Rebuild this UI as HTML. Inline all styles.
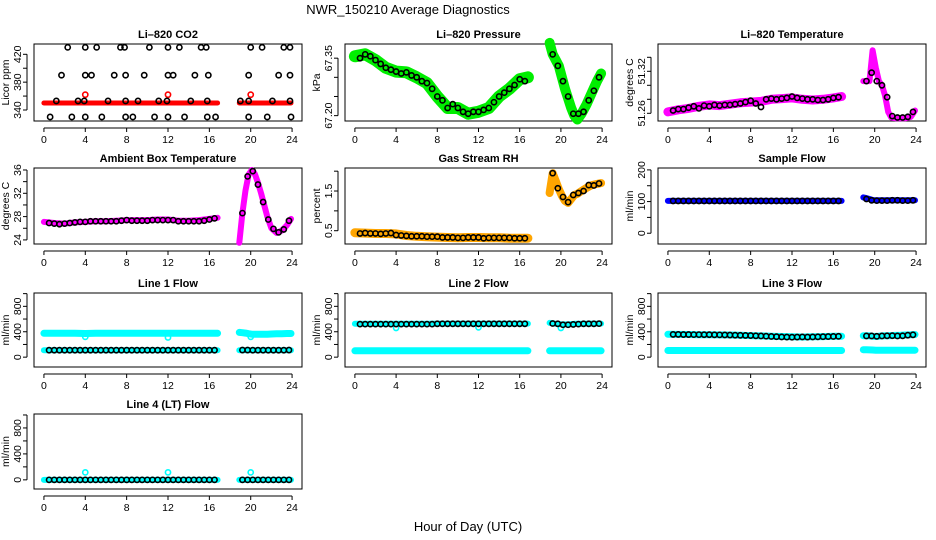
<!DOCTYPE html>
<html><head><meta charset="utf-8"><style>
html,body{margin:0;padding:0;background:#fff;}
svg{display:block;font-family:"Liberation Sans",Arial,sans-serif;}
</style></head><body>
<svg id="chart" width="936" height="540" viewBox="0 0 936 540">
<text x="408" y="14" font-size="13" text-anchor="middle">NWR_150210  Average Diagnostics</text>
<text x="468" y="531" font-size="13" text-anchor="middle">Hour of Day (UTC)</text>
</svg>
<script>
// ---- shared hours ----
const hrsA = [0.5,1,1.5,2,2.5,3,3.5,4,4.5,5,5.5,6,6.5,7,7.5,8,8.5,9,9.5,10,10.5,11,11.5,12,12.5,13,13.5,14,14.5,15,15.5,16,16.5];
const hrsB = [19.2,19.7,20.2,20.7,21.2,21.7,22.2,22.7,23.2,23.7];
const cA = [0,1,2,3,4,5,6,7,8,9,10,11,12,13,14,15,16,16.8];
const cB = [18.9,19.2,19.5,19.8,20.1,20.4,20.7,21,21.3,21.6,22,22.5,23,23.5,23.9];
const xTicks = [0,4,8,12,16,20,24];

// ---- CO2 ----
const co2BandA = [350,350,350,350,350,350,350,350,350,350,350,350,350,350,350,350,350,350];
const co2BandB = [350,350,350,350,350,350,350,350,350,350,350,350,350,350,350];
const co2RedHours = [4,12,20];
const co2RedVals = [362,362,362];
const co2BlkHours = [2.3,4,5.1,7.4,7.8,10.2,12,13.1,15.2,15.7,20,21.1,23.2,23.8, 1.7,4,4.6,6.8,7.9,9.7,12,12.5,14.6,15.9,19.8,22.7,23.8, 1.2,3.3,3.9,6.2,7.9,9.1,11.1,11.9,14.2,15.8,19,19.8,22.1,23.8, 0.6,2.7,4,5.6,7.9,8.6,10.7,12,13.6,15.8,16.6,19.8,21.6,23.9];
const co2BlkVals = [430,430,430,430,430,430,430,430,430,430,430,430,430,430, 390,390,390,390,390,390,390,390,390,390,390,390,390, 353,353,353,353,353,353,353,353,353,353,353,353,353,353, 330,330,330,330,330,330,330,330,330,330,330,330,330,330];

// ---- Pressure ----
const presBandA = [67.355,67.36,67.345,67.325,67.315,67.313,67.30,67.285,67.25,67.22,67.22,67.205,67.21,67.22,67.25,67.27,67.295,67.30];
const presBandB = [67.39,67.36,67.345,67.33,67.30,67.27,67.245,67.22,67.20,67.19,67.205,67.23,67.26,67.29,67.31];
const presBlkA = [67.35,67.36,67.355,67.345,67.335,67.325,67.32,67.315,67.31,67.313,67.305,67.30,67.29,67.285,67.27,67.25,67.24,67.22,67.23,67.22,67.21,67.205,67.21,67.21,67.215,67.22,67.235,67.25,67.26,67.27,67.28,67.295,67.29];
const presBlkB = [67.36,67.33,67.29,67.25,67.205,67.205,67.21,67.24,67.265,67.30];

// ---- Li-820 Temperature ----
const tempBandA = [51.262,51.265,51.267,51.270,51.272,51.271,51.273,51.275,51.276,51.277,51.280,51.281,51.282,51.280,51.279,51.280,51.282,51.284];
const tempBandB = [51.306,51.306,51.306,51.350,51.325,51.306,51.300,51.285,51.262,51.254,51.253,51.253,51.253,51.255,51.264];
const tempBlkA = [51.264,51.266,51.266,51.268,51.270,51.267,51.271,51.270,51.272,51.271,51.272,51.272,51.273,51.274,51.276,51.278,51.274,51.269,51.280,51.281,51.280,51.281,51.282,51.284,51.282,51.281,51.280,51.280,51.279,51.279,51.280,51.282,51.283];
const tempBlkB = [51.306,51.318,51.306,51.300,51.283,51.256,51.254,51.254,51.255,51.262];

// ---- Ambient Box Temperature ----
const ambBandA = [27.1,26.9,26.8,27.0,27.1,27.2,27.2,27.3,27.4,27.4,27.4,27.5,27.5,27.3,27.3,27.4,27.6,27.8];
const ambBandB = [23.5,28.6,32.5,35.2,36.0,35.3,33.8,32.0,30.0,28.0,26.0,25.2,25.6,26.5,27.6];
const ambBlkA = [26.9,26.8,26.7,26.8,26.9,27.0,27.1,27.1,27.2,27.2,27.2,27.2,27.2,27.2,27.3,27.4,27.3,27.3,27.3,27.3,27.4,27.4,27.4,27.4,27.4,27.2,27.2,27.2,27.2,27.2,27.3,27.5,27.7];
const ambBlkB = [28.6,34.9,35.8,33.5,30.5,27.5,25.9,25.3,25.8,27.3];

// ---- Gas Stream RH ----
const rhBandA = [0.45,0.44,0.43,0.43,0.42,0.38,0.36,0.35,0.34,0.33,0.32,0.33,0.33,0.32,0.32,0.31,0.31,0.31];
const rhBandB = [1.45,1.95,1.75,1.55,1.38,1.25,1.20,1.30,1.40,1.43,1.50,1.58,1.65,1.68,1.70];
const rhBlkA = [0.43,0.44,0.43,0.43,0.42,0.43,0.44,0.39,0.38,0.37,0.36,0.36,0.36,0.35,0.35,0.35,0.33,0.33,0.33,0.32,0.32,0.33,0.33,0.33,0.31,0.32,0.32,0.32,0.32,0.32,0.31,0.31,0.31];
const rhBlkB = [1.95,1.57,1.35,1.22,1.40,1.45,1.50,1.65,1.64,1.69];

// ---- Sample Flow ----
const sfBandA = [102,102,102,102,102,102,102,102,102,102,102,102,102,102,102,102,102,102];
const sfBandB = [113,111,108,105,104,104,104,104,104,104,104,104,104,104,104];
const sfBlkA = [102,102,102,102,102,102,102,102,102,102,102,102,102,102,102,102,102,102,102,102,102,102,102,102,102,102,102,102,102,102,102,102,102];
const sfBlkB = [108,104,103,103,103,104,104,103,103,104];

// ---- Line 1 Flow ----
const l1UpA = [375,375,375,375,372,375,375,375,375,375,375,375,375,375,375,375,375,375];
const l1UpB = [390,385,378,370,362,360,360,360,360,362,365,368,370,372,372];
const l1LoA = [110,110,110,110,110,110,110,110,110,110,110,110,110,110,110,110,110,110];
const l1LoB = [110,110,110,110,110,110,110,110,110,110,110,110,110,110,110];
const l1BlkA = [110,110,110,110,110,110,110,110,110,110,110,110,110,110,110,110,110,110,110,110,110,110,110,110,110,110,110,110,110,110,110,110,110];
const l1BlkB = [112,112,110,110,110,110,110,110,110,112];
const l1DipHours = [4,12,20];
const l1DipVals = [320,310,320];

// ---- Line 2 Flow ----
const l2UpA = [525,525,525,525,525,525,525,525,528,528,528,528,528,528,528,528,528,528];
const l2UpB = [540,535,525,520,515,515,515,520,525,525,525,528,528,528,528];
const l2LoA = [100,100,100,100,100,100,100,100,100,100,100,100,100,100,100,100,100,100];
const l2LoB = [100,100,100,100,100,100,100,100,100,100,100,100,100,100,100];
const l2BlkA = [520,520,520,520,520,520,520,520,520,520,520,520,520,520,520,525,525,525,525,525,525,525,525,525,525,525,525,525,525,525,525,525,525];
const l2BlkB = [530,525,510,510,515,520,525,525,525,528];
const l2DipHours = [4,12,20];
const l2DipVals = [460,470,460];

// ---- Line 3 Flow ----
const l3UpA = [360,358,356,354,352,350,348,345,340,335,330,325,320,318,320,324,328,330];
const l3UpB = [338,336,334,330,326,330,334,336,338,340,342,344,348,352,356];
const l3LoA = [105,105,105,105,105,105,105,105,105,105,105,105,105,105,105,105,105,105];
const l3LoB = [118,116,114,112,110,110,110,110,110,110,110,110,110,110,110];
const l3BlkA = [358,358,356,356,355,355,354,354,352,351,350,348,346,344,342,340,336,334,330,326,322,318,316,314,316,318,316,318,320,322,324,326,328];
const l3BlkB = [334,334,328,334,336,338,334,336,346,352];

// ---- Line 4 Flow ----
const l4BandA = [0,0,0,0,0,0,0,0,0,0,0,0,0,0,0,0,0,0];
const l4BandB = [0,0,0,0,0,0,0,0,0,0,0,0,0,0,0];
const l4BlkA = [0,0,0,0,0,0,0,0,0,0,0,0,0,0,0,0,0,0,0,0,0,0,0,0,0,0,0,0,0,0,0,0,0];
const l4BlkB = [0,0,0,0,0,0,0,0,0,0];
const l4CyanHours = [4,12,20];
const l4CyanVals = [115,115,115];

// ---- rendering ----
const NS = "http://www.w3.org/2000/svg";
const svg = document.getElementById('chart');
const colX = [[34,302],[345,612],[658,926]];
const rowY = [[44,121],[168,244],[293,367],[414,489]];

function mk(tag, attrs, parent) {
  const e = document.createElementNS(NS, tag);
  for (const k in attrs) e.setAttribute(k, attrs[k]);
  (parent || svg).appendChild(e);
  return e;
}

function makePanel(col, row, title, ytitle, ylim, ticks, labels, key) {
  const [x0, x1] = colX[col], [y0, y1] = rowY[row];
  const g = mk('g', {});
  
  
  const xs = h => x0 + (h + 0.96) / 25.92 * (x1 - x0);
  const ys = v => y1 - (v - ylim[0]) / (ylim[1] - ylim[0]) * (y1 - y0);
  const box = mk('rect', {x: x0, y: y0, width: x1 - x0, height: y1 - y0, fill: 'none', stroke: '#000', 'stroke-width': 1}, g);
  
  
  const t = mk('text', {x: (x0 + x1) / 2, y: y0 - 6, 'font-size': 11, 'font-weight': 'bold', 'text-anchor': 'middle'}, g);
  t.textContent = title;
  
  
  // x axis
  const ax = mk('g', {}, g);
  
  
  const ay0 = y1 + 7;
  mk('line', {x1: xs(xTicks[0]), x2: xs(xTicks[xTicks.length - 1]), y1: ay0, y2: ay0, stroke: '#000'}, ax);
  xTicks.forEach(v => {
    mk('line', {x1: xs(v), x2: xs(v), y1: ay0, y2: ay0 + 4, stroke: '#000'}, ax);
    const l = mk('text', {x: xs(v), y: y1 + 22, 'font-size': 10.5, 'text-anchor': 'middle'}, ax);
    l.textContent = v;
    
    
  });
  // y axis
  const ya = mk('g', {}, g);
  
  
  const axx = x0 - 7;
  mk('line', {x1: axx, x2: axx, y1: ys(ticks[0]), y2: ys(ticks[ticks.length - 1]), stroke: '#000'}, ya);
  ticks.forEach((v, i) => {
    mk('line', {x1: axx - 4, x2: axx, y1: ys(v), y2: ys(v), stroke: '#000'}, ya);
    if (labels[i] !== '') {
      const l = mk('text', {x: 0, y: 0, 'font-size': 10.5, 'text-anchor': 'middle', transform: `translate(${x0 - 13},${ys(v)}) rotate(-90)`}, ya);
      l.textContent = labels[i];
      
      
    }
  });
  const yt = mk('text', {x: 0, y: 0, 'font-size': 10.5, 'text-anchor': 'middle', transform: `translate(${x0 - 25},${(y0 + y1) / 2}) rotate(-90)`}, g);
  yt.textContent = ytitle;
  
  
  return {g, xs, ys};
}

function band(p, hours, vals, color, w, name) {
  const pts = hours.map((h, i) => p.xs(h).toFixed(1) + ',' + p.ys(vals[i]).toFixed(1)).join(' ');
  const e = mk('polyline', {points: pts, fill: 'none', stroke: color, 'stroke-width': w, 'stroke-linecap': 'round', 'stroke-linejoin': 'round'}, p.g);
  
  
}
function pts(p, hours, vals, color, name) {
  const g = mk('g', {}, p.g);
  
  
  hours.forEach((h, i) => {
    const c = mk('circle', {cx: p.xs(h), cy: p.ys(vals[i]), r: 2.6, fill: 'none', stroke: color, 'stroke-width': 1.6}, g);
    
    
  });
}

// Panel 1
let p = makePanel(0, 0, 'Li\u2013820 CO2', 'Licor ppm', [324.2, 434.8], [340,360,380,400,420], ['340','','380','','420'], 'co2');
band(p, cA, co2BandA, '#ff0000', 5, 'co2-red-series');
band(p, cB, co2BandB, '#ff0000', 5, 'co2-red-series-b');
pts(p, co2RedHours, co2RedVals, '#ff0000', 'co2-red-points');
pts(p, co2BlkHours, co2BlkVals, '#000', 'co2-black-points');

// Panel 2
p = makePanel(1, 0, 'Li\u2013820 Pressure', 'kPa', [67.186, 67.387], [67.20,67.25,67.30,67.35], ['67.20','','','67.35'], 'pressure');
band(p, cA, presBandA, '#00ee00', 12, 'pressure-green-series');
band(p, cB, presBandB, '#00ee00', 10, 'pressure-green-series-b');
pts(p, hrsA, presBlkA, '#000', 'pressure-black-points');
pts(p, hrsB, presBlkB, '#000', 'pressure-black-points-b');

// Panel 3
p = makePanel(2, 0, 'Li\u2013820 Temperature', 'degrees C', [51.249, 51.359], [51.26,51.28,51.30,51.32,51.34], ['51.26','','','51.32',''], 'li820-temp');
band(p, cA, tempBandA, '#ff00ff', 9, 'li820-temp-magenta-series');
band(p, cB, tempBandB, '#ff00ff', 6, 'li820-temp-magenta-series-b');
pts(p, hrsA, tempBlkA, '#000', 'li820-temp-black-points');
pts(p, hrsB, tempBlkB, '#000', 'li820-temp-black-points-b');

// Panel 4
p = makePanel(0, 1, 'Ambient Box Temperature', 'degrees C', [23.3, 36.34], [24,26,28,30,32,34,36], ['24','','28','','32','','36'], 'ambient');
band(p, cA, ambBandA, '#ff00ff', 6, 'ambient-magenta-series');
band(p, cB, ambBandB, '#ff00ff', 6, 'ambient-magenta-series-b');
pts(p, hrsA, ambBlkA, '#000', 'ambient-black-points');
pts(p, hrsB, ambBlkB, '#000', 'ambient-black-points-b');

// Panel 5
p = makePanel(1, 1, 'Gas Stream RH', 'percent', [0.165, 2.08], [0.5,1.0,1.5,2.0], ['0.5','','1.5',''], 'rh');
band(p, cA, rhBandA, '#ffa500', 9, 'rh-orange-series');
band(p, cB, rhBandB, '#ffa500', 8, 'rh-orange-series-b');
pts(p, hrsA, rhBlkA, '#000', 'rh-black-points');
pts(p, hrsB, rhBlkB, '#000', 'rh-black-points-b');

// Panel 6
p = makePanel(2, 1, 'Sample Flow', 'ml/min', [-34, 206], [0,50,100,150,200], ['0','','100','','200'], 'sample-flow');
band(p, cA, sfBandA, '#0000ff', 6, 'sample-flow-blue-series');
band(p, cB, sfBandB, '#0000ff', 6, 'sample-flow-blue-series-b');
pts(p, hrsA, sfBlkA, '#000', 'sample-flow-black-points');
pts(p, hrsB, sfBlkB, '#000', 'sample-flow-black-points-b');

const flowTicks = [0,200,400,600,800,1000];
const flowLabels = ['0','','400','','800',''];
// Line 1
p = makePanel(0, 2, 'Line 1 Flow', 'ml/min', [-155, 1010], flowTicks, flowLabels, 'line1');
band(p, cA, l1UpA, '#00ffff', 7, 'line1-upper-cyan');
band(p, cB, l1UpB, '#00ffff', 7, 'line1-upper-cyan-b');
band(p, cA, l1LoA, '#00ffff', 6, 'line1-lower-cyan');
band(p, cB, l1LoB, '#00ffff', 6, 'line1-lower-cyan-b');
pts(p, l1DipHours, l1DipVals, '#00ffff', 'line1-cyan-dips');
pts(p, hrsA, l1BlkA, '#000', 'line1-black-points');
pts(p, hrsB, l1BlkB, '#000', 'line1-black-points-b');

// Line 2
p = makePanel(1, 2, 'Line 2 Flow', 'ml/min', [-155, 1010], flowTicks, flowLabels, 'line2');
band(p, cA, l2UpA, '#00ffff', 6, 'line2-upper-cyan');
band(p, cB, l2UpB, '#00ffff', 6, 'line2-upper-cyan-b');
band(p, cA, l2LoA, '#00ffff', 7, 'line2-lower-cyan');
band(p, cB, l2LoB, '#00ffff', 7, 'line2-lower-cyan-b');
pts(p, l2DipHours, l2DipVals, '#00ffff', 'line2-cyan-dips');
pts(p, hrsA, l2BlkA, '#000', 'line2-black-points');
pts(p, hrsB, l2BlkB, '#000', 'line2-black-points-b');

// Line 3
p = makePanel(2, 2, 'Line 3 Flow', 'ml/min', [-155, 1010], flowTicks, flowLabels, 'line3');
band(p, cA, l3UpA, '#00ffff', 7, 'line3-upper-cyan');
band(p, cB, l3UpB, '#00ffff', 7, 'line3-upper-cyan-b');
band(p, cA, l3LoA, '#00ffff', 7, 'line3-lower-cyan');
band(p, cB, l3LoB, '#00ffff', 7, 'line3-lower-cyan-b');
pts(p, hrsA, l3BlkA, '#000', 'line3-black-points');
pts(p, hrsB, l3BlkB, '#000', 'line3-black-points-b');

// Line 4
p = makePanel(0, 3, 'Line 4 (LT) Flow', 'ml/min', [-141, 1015], flowTicks, flowLabels, 'line4');
band(p, cA, l4BandA, '#00ffff', 6, 'line4-cyan-series');
band(p, cB, l4BandB, '#00ffff', 6, 'line4-cyan-series-b');
pts(p, l4CyanHours, l4CyanVals, '#00ffff', 'line4-cyan-spikes');
pts(p, hrsA, l4BlkA, '#000', 'line4-black-points');
pts(p, hrsB, l4BlkB, '#000', 'line4-black-points-b');
</script>
</body></html>
